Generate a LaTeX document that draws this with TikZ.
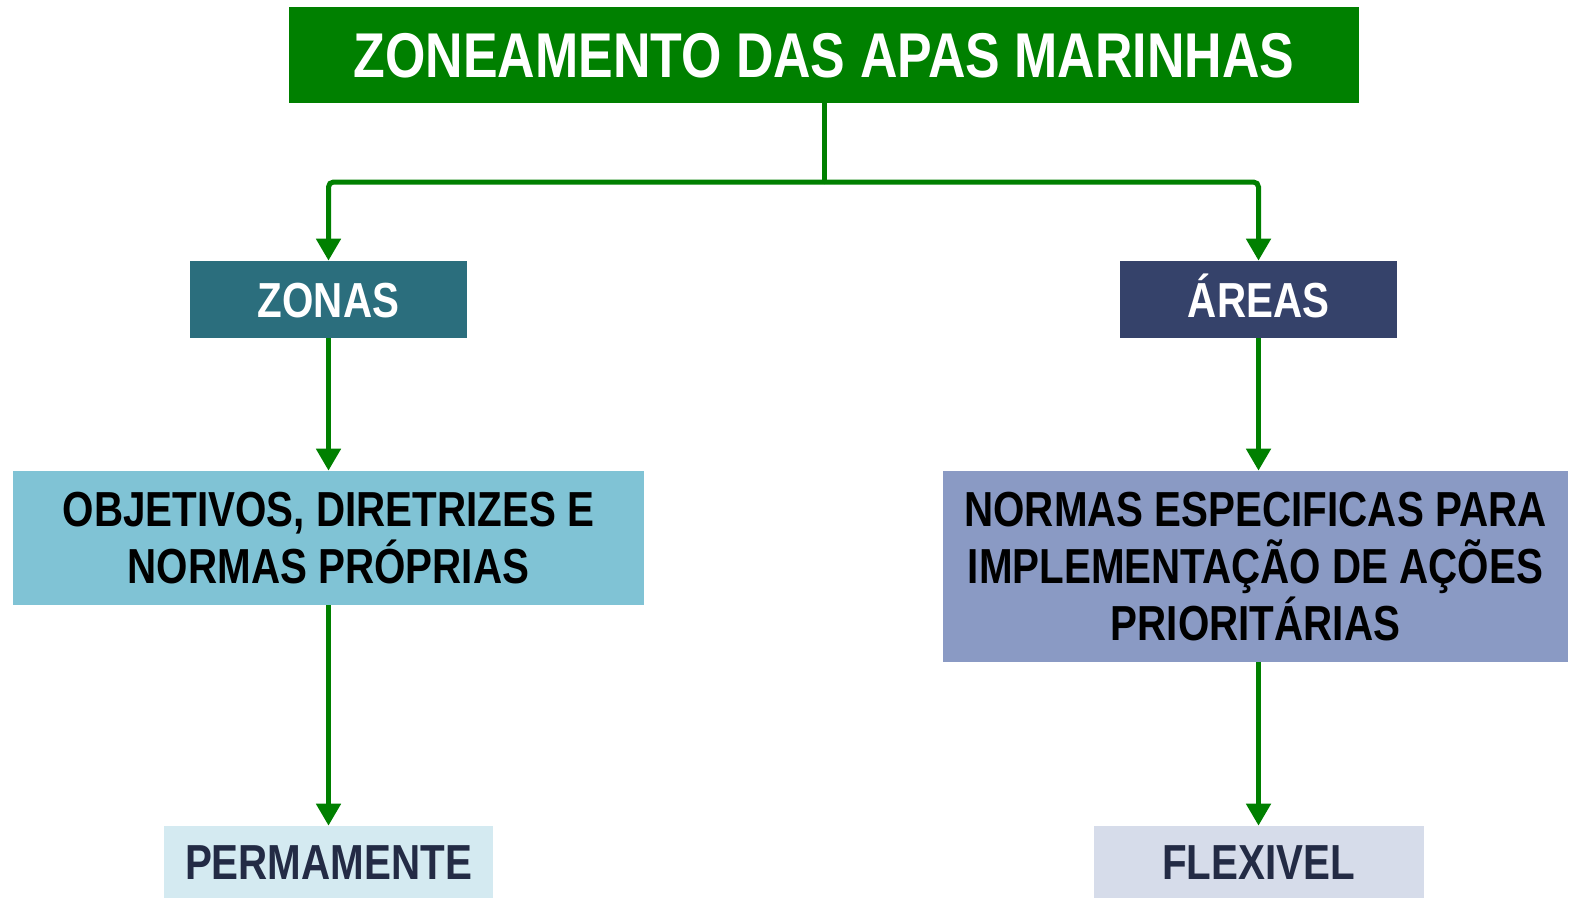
\documentclass[tikz,border=0pt]{standalone}
\usepackage{fontspec}
\setmainfont[FakeStretch=0.82]{Liberation Sans}
\usetikzlibrary{arrows.meta,positioning}

\definecolor{apagreen}{RGB}{0,128,0}
\definecolor{zonafill}{RGB}{43,110,125}
\definecolor{areafill}{RGB}{53,66,106}
\definecolor{objfill}{RGB}{128,195,213}
\definecolor{normfill}{RGB}{138,154,196}
\definecolor{permfill}{RGB}{212,234,241}
\definecolor{flexfill}{RGB}{214,220,234}
\definecolor{navytext}{RGB}{35,43,69}

\tikzset{
  box/.style={rectangle, inner sep=0pt, align=center,
    font=\bfseries\fontsize{28}{32.4}\selectfont},
  oneline/.style={text height=#1, text depth=0pt},
  link/.style={line width=0.1cm, draw=apagreen,
    -{Triangle[width=0.48cm,length=0.44cm]}}
}

\begin{document}
\begin{tikzpicture}

      % Definitions
      \pgfmathsetmacro{\L}{6.57}
      \pgfmathsetmacro{\Rt}{25.17}
      \useasboundingbox (0,0) rectangle (31.58,-18.10);

      % title
      \node[box, oneline=25.8pt, fill=apagreen, text=white, minimum width=21.4cm,
        minimum height=1.92cm, font=\bfseries\fontsize{36}{43}\selectfont]
        (title) at (16.48,-1.10) {ZONEAMENTO DAS APAS MARINHAS};

      % zonas and areas
      \node[box, oneline=20pt, fill=zonafill, text=white, minimum width=5.54cm,
        minimum height=1.54cm] (zonas) at (\L,-5.99) {ZONAS};
      \node[box, oneline=20pt, fill=areafill, text=white, minimum width=5.54cm,
        minimum height=1.54cm] (areas) at (\Rt,-5.99) {ÁREAS};

      % rules
      \node[box, fill=objfill, text=black, minimum width=12.62cm,
        minimum height=2.68cm] (objetivos) at (\L,-10.76)
        {OBJETIVOS, DIRETRIZES E\\NORMAS PRÓPRIAS};
      \node[box, fill=normfill, text=black, minimum width=12.5cm,
        minimum height=3.82cm] (normas) at (25.11,-11.33)
        {NORMAS ESPECIFICAS PARA\\IMPLEMENTAÇÃO DE AÇÕES\\PRIORITÁRIAS};

      % duration
      \node[box, oneline=20pt, fill=permfill, text=navytext, minimum width=6.58cm,
        minimum height=1.44cm] (perm) at (\L,-17.24) {PERMAMENTE};
      \node[box, oneline=20pt, fill=flexfill, text=navytext, minimum width=6.6cm,
        minimum height=1.44cm] (flex) at (\Rt,-17.24) {FLEXIVEL};

      % connectors
      \coordinate (fork) at (16.48,-3.64);
      \draw[line width=0.1cm, draw=apagreen] (title.south) -- (fork);
      \draw[link, rounded corners=0.1cm] (fork) -| (zonas.north);
      \draw[link, rounded corners=0.1cm] (fork) -| (areas.north);
      \draw[link] (zonas.south) -- (objetivos.north -| zonas.south);
      \draw[link] (areas.south) -- (normas.north -| areas.south);
      \draw[link] (objetivos.south -| perm.north) -- (perm.north);
      \draw[link] (normas.south -| flex.north) -- (flex.north);
\end{tikzpicture}
\end{document}
